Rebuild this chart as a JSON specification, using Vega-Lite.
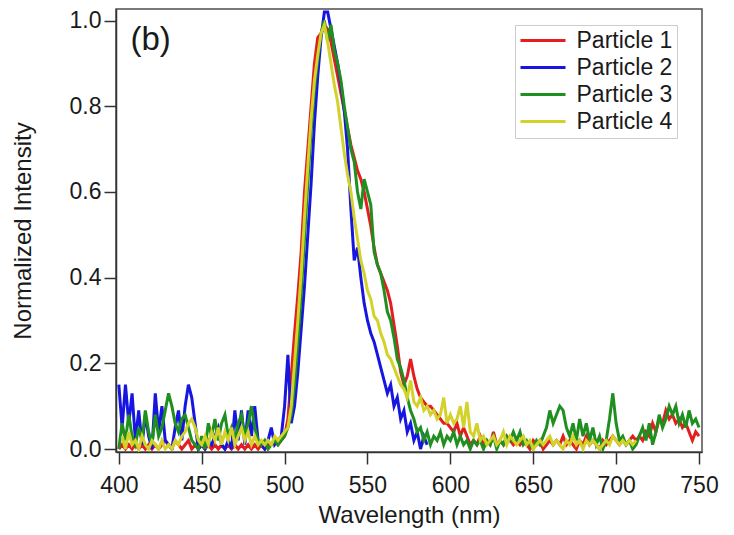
{
  "$schema": "https://vega.github.io/schema/vega-lite/v6.json",
  "width": 586,
  "height": 443,
  "autosize": {"type": "none"},
  "padding": {"left": 116, "top": 9, "right": 32, "bottom": 83},
  "background": "white",
  "config": {
    "view": {"stroke": "#4d4d4d", "strokeWidth": 1.5},
    "font": "Liberation Sans",
    "axis": {
      "grid": false,
      "domainColor": "#333333",
      "domainWidth": 1.5,
      "tickColor": "#333333",
      "tickWidth": 1.5,
      "tickSize": 12,
      "labelFont": "Liberation Sans",
      "labelFontSize": 23,
      "labelColor": "#1a1a1a",
      "titleFont": "Liberation Sans",
      "titleFontSize": 24,
      "titleFontWeight": "normal",
      "titleColor": "#1a1a1a"
    }
  },
  "layer": [
    {
      "data": {
        "values": [
          {"w":400,"Particle 1":0.0,"Particle 2":0.15,"Particle 3":0.0},
          {"w":402,"Particle 1":0.01,"Particle 2":0.05,"Particle 3":0.06,"Particle 4":0.03},
          {"w":404,"Particle 1":0.0,"Particle 2":0.15,"Particle 3":0.02,"Particle 4":0.0},
          {"w":406,"Particle 1":0.01,"Particle 2":0.06,"Particle 3":0.08,"Particle 4":0.04},
          {"w":408,"Particle 1":0.0,"Particle 2":0.13,"Particle 3":0.03,"Particle 4":0.01},
          {"w":410,"Particle 1":0.01,"Particle 2":0.02,"Particle 3":0.01,"Particle 4":0.02},
          {"w":412,"Particle 1":0.0,"Particle 2":0.09,"Particle 3":0.05,"Particle 4":0.0},
          {"w":414,"Particle 1":0.01,"Particle 2":0.01,"Particle 3":0.02,"Particle 4":0.03},
          {"w":416,"Particle 1":0.0,"Particle 2":0.08,"Particle 3":0.09,"Particle 4":0.01},
          {"w":418,"Particle 1":0.01,"Particle 2":0.03,"Particle 3":0.04,"Particle 4":0.0},
          {"w":420,"Particle 1":0.0,"Particle 2":0.0,"Particle 3":0.01,"Particle 4":0.02},
          {"w":422,"Particle 1":0.01,"Particle 2":0.13,"Particle 3":0.08,"Particle 4":0.01},
          {"w":424,"Particle 1":0.0,"Particle 2":0.04,"Particle 3":0.03,"Particle 4":0.0},
          {"w":426,"Particle 1":0.01,"Particle 2":0.1,"Particle 3":0.05,"Particle 4":0.02},
          {"w":428,"Particle 1":0.02,"Particle 2":0.02,"Particle 3":0.09,"Particle 4":0.0},
          {"w":430,"Particle 1":0.01,"Particle 2":0.01,"Particle 3":0.13,"Particle 4":0.01},
          {"w":432,"Particle 1":0.0,"Particle 2":0.0,"Particle 3":0.1,"Particle 4":0.0},
          {"w":434,"Particle 1":0.02,"Particle 2":0.05,"Particle 3":0.06,"Particle 4":0.02},
          {"w":436,"Particle 1":0.01,"Particle 2":0.09,"Particle 3":0.04,"Particle 4":0.01},
          {"w":438,"Particle 1":0.0,"Particle 2":0.02,"Particle 3":0.07,"Particle 4":0.03},
          {"w":440,"Particle 1":0.01,"Particle 2":0.1,"Particle 3":0.08,"Particle 4":0.04},
          {"w":442,"Particle 1":0.02,"Particle 2":0.15,"Particle 3":0.05,"Particle 4":0.06},
          {"w":444,"Particle 1":0.0,"Particle 2":0.12,"Particle 3":0.02,"Particle 4":0.07},
          {"w":446,"Particle 1":0.01,"Particle 2":0.06,"Particle 3":0.01,"Particle 4":0.05},
          {"w":448,"Particle 1":0.0,"Particle 2":0.0,"Particle 3":0.0,"Particle 4":0.02},
          {"w":450,"Particle 1":0.01,"Particle 2":0.01,"Particle 3":0.03,"Particle 4":0.01},
          {"w":452,"Particle 1":0.0,"Particle 2":0.0,"Particle 3":0.0,"Particle 4":0.03},
          {"w":454,"Particle 1":0.01,"Particle 2":0.02,"Particle 3":0.06,"Particle 4":0.01},
          {"w":456,"Particle 1":0.0,"Particle 2":0.01,"Particle 3":0.03,"Particle 4":0.04},
          {"w":458,"Particle 1":0.01,"Particle 2":0.03,"Particle 3":0.07,"Particle 4":0.02},
          {"w":460,"Particle 1":0.0,"Particle 2":0.05,"Particle 3":0.02,"Particle 4":0.05},
          {"w":462,"Particle 1":0.01,"Particle 2":0.01,"Particle 3":0.06,"Particle 4":0.01},
          {"w":464,"Particle 1":0.0,"Particle 2":0.0,"Particle 3":0.08,"Particle 4":0.04},
          {"w":466,"Particle 1":0.01,"Particle 2":0.02,"Particle 3":0.03,"Particle 4":0.02},
          {"w":468,"Particle 1":0.0,"Particle 2":0.0,"Particle 3":0.05,"Particle 4":0.05},
          {"w":470,"Particle 1":0.01,"Particle 2":0.09,"Particle 3":0.02,"Particle 4":0.01},
          {"w":472,"Particle 1":0.0,"Particle 2":0.02,"Particle 3":0.06,"Particle 4":0.03},
          {"w":474,"Particle 1":0.01,"Particle 2":0.09,"Particle 3":0.08,"Particle 4":0.05},
          {"w":476,"Particle 1":0.0,"Particle 2":0.01,"Particle 3":0.03,"Particle 4":0.02},
          {"w":478,"Particle 1":0.01,"Particle 2":0.09,"Particle 3":0.06,"Particle 4":0.04},
          {"w":480,"Particle 1":0.0,"Particle 2":0.03,"Particle 3":0.1,"Particle 4":0.01},
          {"w":482,"Particle 1":0.01,"Particle 2":0.1,"Particle 3":0.05,"Particle 4":0.03},
          {"w":484,"Particle 1":0.0,"Particle 2":0.02,"Particle 3":0.02,"Particle 4":0.01},
          {"w":486,"Particle 1":0.01,"Particle 2":0.01,"Particle 3":0.01,"Particle 4":0.02},
          {"w":488,"Particle 1":0.0,"Particle 2":0.0,"Particle 3":0.02,"Particle 4":0.01},
          {"w":490,"Particle 1":0.01,"Particle 2":0.02,"Particle 3":0.0,"Particle 4":0.02},
          {"w":492,"Particle 1":0.01,"Particle 2":0.05,"Particle 3":0.01,"Particle 4":0.01},
          {"w":494,"Particle 1":0.02,"Particle 2":0.01,"Particle 3":0.02,"Particle 4":0.03},
          {"w":496,"Particle 1":0.01,"Particle 2":0.02,"Particle 3":0.01,"Particle 4":0.02},
          {"w":498,"Particle 1":0.02,"Particle 2":0.03,"Particle 3":0.02,"Particle 4":0.03},
          {"w":500,"Particle 1":0.03,"Particle 2":0.1,"Particle 3":0.03,"Particle 4":0.04},
          {"w":502,"Particle 1":0.07,"Particle 2":0.22,"Particle 3":0.05,"Particle 4":0.05},
          {"w":504,"Particle 1":0.17,"Particle 2":0.06,"Particle 3":0.08,"Particle 4":0.1},
          {"w":506,"Particle 1":0.27,"Particle 2":0.1,"Particle 3":0.15,"Particle 4":0.2},
          {"w":508,"Particle 1":0.36,"Particle 2":0.18,"Particle 3":0.25,"Particle 4":0.3},
          {"w":510,"Particle 1":0.46,"Particle 2":0.28,"Particle 3":0.36,"Particle 4":0.41},
          {"w":512,"Particle 1":0.6,"Particle 2":0.38,"Particle 3":0.49,"Particle 4":0.54},
          {"w":514,"Particle 1":0.7,"Particle 2":0.5,"Particle 3":0.62,"Particle 4":0.66},
          {"w":516,"Particle 1":0.8,"Particle 2":0.62,"Particle 3":0.74,"Particle 4":0.77},
          {"w":518,"Particle 1":0.9,"Particle 2":0.76,"Particle 3":0.84,"Particle 4":0.86},
          {"w":520,"Particle 1":0.96,"Particle 2":0.87,"Particle 3":0.91,"Particle 4":0.92},
          {"w":522,"Particle 1":0.97,"Particle 2":0.96,"Particle 3":0.97,"Particle 4":0.97},
          {"w":524,"Particle 1":0.99,"Particle 2":1.02,"Particle 3":1.0,"Particle 4":0.99},
          {"w":526,"Particle 1":0.98,"Particle 2":1.02,"Particle 3":0.95,"Particle 4":0.95},
          {"w":528,"Particle 1":0.95,"Particle 2":0.98,"Particle 3":0.99,"Particle 4":0.9},
          {"w":530,"Particle 1":0.91,"Particle 2":0.94,"Particle 3":0.93,"Particle 4":0.85},
          {"w":532,"Particle 1":0.87,"Particle 2":0.9,"Particle 3":0.9,"Particle 4":0.81},
          {"w":534,"Particle 1":0.83,"Particle 2":0.85,"Particle 3":0.86,"Particle 4":0.75},
          {"w":536,"Particle 1":0.79,"Particle 2":0.79,"Particle 3":0.8,"Particle 4":0.69},
          {"w":538,"Particle 1":0.75,"Particle 2":0.7,"Particle 3":0.75,"Particle 4":0.64},
          {"w":540,"Particle 1":0.71,"Particle 2":0.56,"Particle 3":0.7,"Particle 4":0.6},
          {"w":542,"Particle 1":0.68,"Particle 2":0.44,"Particle 3":0.67,"Particle 4":0.54},
          {"w":544,"Particle 1":0.65,"Particle 2":0.47,"Particle 3":0.6,"Particle 4":0.49},
          {"w":546,"Particle 1":0.63,"Particle 2":0.4,"Particle 3":0.56,"Particle 4":0.44},
          {"w":548,"Particle 1":0.6,"Particle 2":0.34,"Particle 3":0.63,"Particle 4":0.41},
          {"w":550,"Particle 1":0.56,"Particle 2":0.3,"Particle 3":0.6,"Particle 4":0.37},
          {"w":552,"Particle 1":0.52,"Particle 2":0.27,"Particle 3":0.57,"Particle 4":0.35},
          {"w":554,"Particle 1":0.47,"Particle 2":0.25,"Particle 3":0.46,"Particle 4":0.31},
          {"w":556,"Particle 1":0.43,"Particle 2":0.22,"Particle 3":0.43,"Particle 4":0.3},
          {"w":558,"Particle 1":0.41,"Particle 2":0.19,"Particle 3":0.41,"Particle 4":0.27},
          {"w":560,"Particle 1":0.39,"Particle 2":0.16,"Particle 3":0.37,"Particle 4":0.25},
          {"w":562,"Particle 1":0.37,"Particle 2":0.13,"Particle 3":0.32,"Particle 4":0.22},
          {"w":564,"Particle 1":0.34,"Particle 2":0.15,"Particle 3":0.3,"Particle 4":0.21},
          {"w":566,"Particle 1":0.29,"Particle 2":0.1,"Particle 3":0.26,"Particle 4":0.19},
          {"w":568,"Particle 1":0.24,"Particle 2":0.12,"Particle 3":0.21,"Particle 4":0.17},
          {"w":570,"Particle 1":0.18,"Particle 2":0.07,"Particle 3":0.19,"Particle 4":0.15},
          {"w":572,"Particle 1":0.15,"Particle 2":0.09,"Particle 3":0.16,"Particle 4":0.14},
          {"w":574,"Particle 1":0.17,"Particle 2":0.04,"Particle 3":0.12,"Particle 4":0.12},
          {"w":576,"Particle 1":0.21,"Particle 2":0.06,"Particle 3":0.09,"Particle 4":0.16},
          {"w":578,"Particle 1":0.17,"Particle 2":0.02,"Particle 3":0.07,"Particle 4":0.11},
          {"w":580,"Particle 1":0.14,"Particle 2":0.04,"Particle 3":0.04,"Particle 4":0.1},
          {"w":582,"Particle 1":0.12,"Particle 2":0.0,"Particle 3":0.05,"Particle 4":0.12},
          {"w":584,"Particle 1":0.11,"Particle 2":0.03,"Particle 3":0.02,"Particle 4":0.09},
          {"w":586,"Particle 1":0.1,"Particle 2":0.01,"Particle 3":0.04,"Particle 4":0.1},
          {"w":588,"Particle 1":0.1,"Particle 3":0.01,"Particle 4":0.08},
          {"w":590,"Particle 1":0.09,"Particle 3":0.03,"Particle 4":0.09},
          {"w":592,"Particle 1":0.08,"Particle 3":0.02,"Particle 4":0.07},
          {"w":594,"Particle 1":0.07,"Particle 3":0.04,"Particle 4":0.08},
          {"w":596,"Particle 1":0.06,"Particle 3":0.01,"Particle 4":0.12},
          {"w":598,"Particle 1":0.06,"Particle 3":0.03,"Particle 4":0.06},
          {"w":600,"Particle 1":0.05,"Particle 3":0.02,"Particle 4":0.08},
          {"w":602,"Particle 1":0.04,"Particle 3":0.04,"Particle 4":0.06},
          {"w":604,"Particle 1":0.06,"Particle 3":0.01,"Particle 4":0.07},
          {"w":606,"Particle 1":0.03,"Particle 3":0.03,"Particle 4":0.1},
          {"w":608,"Particle 1":0.05,"Particle 3":0.01,"Particle 4":0.05},
          {"w":610,"Particle 1":0.03,"Particle 3":0.02,"Particle 4":0.11},
          {"w":612,"Particle 1":0.01,"Particle 3":0.0,"Particle 4":0.04},
          {"w":614,"Particle 1":0.02,"Particle 3":0.02,"Particle 4":0.03},
          {"w":616,"Particle 1":0.01,"Particle 3":0.01,"Particle 4":0.06},
          {"w":618,"Particle 1":0.03,"Particle 3":0.02,"Particle 4":0.02},
          {"w":620,"Particle 1":0.01,"Particle 3":0.0,"Particle 4":0.03},
          {"w":622,"Particle 1":0.02,"Particle 3":0.02,"Particle 4":0.01},
          {"w":624,"Particle 1":0.01,"Particle 3":0.01,"Particle 4":0.02},
          {"w":626,"Particle 1":0.04,"Particle 3":0.03,"Particle 4":0.03},
          {"w":628,"Particle 1":0.01,"Particle 3":0.0,"Particle 4":0.01},
          {"w":630,"Particle 1":0.02,"Particle 3":0.02,"Particle 4":0.02},
          {"w":632,"Particle 1":0.01,"Particle 3":0.01,"Particle 4":0.04},
          {"w":634,"Particle 1":0.03,"Particle 3":0.03,"Particle 4":0.01},
          {"w":636,"Particle 1":0.02,"Particle 3":0.02,"Particle 4":0.03},
          {"w":638,"Particle 1":0.01,"Particle 3":0.04,"Particle 4":0.02},
          {"w":640,"Particle 1":0.02,"Particle 3":0.02,"Particle 4":0.01},
          {"w":642,"Particle 1":0.01,"Particle 3":0.04,"Particle 4":0.02},
          {"w":644,"Particle 1":0.02,"Particle 3":0.01,"Particle 4":0.03},
          {"w":646,"Particle 1":0.01,"Particle 3":0.02,"Particle 4":0.01},
          {"w":648,"Particle 1":0.0,"Particle 3":0.01,"Particle 4":0.02},
          {"w":650,"Particle 1":0.02,"Particle 3":0.0,"Particle 4":0.0},
          {"w":652,"Particle 1":0.01,"Particle 3":0.02,"Particle 4":0.01},
          {"w":654,"Particle 1":0.02,"Particle 3":0.01,"Particle 4":0.02},
          {"w":656,"Particle 1":0.0,"Particle 3":0.03,"Particle 4":0.01},
          {"w":658,"Particle 1":0.01,"Particle 3":0.05,"Particle 4":0.02},
          {"w":660,"Particle 1":0.02,"Particle 3":0.09,"Particle 4":0.03},
          {"w":662,"Particle 1":0.01,"Particle 3":0.06,"Particle 4":0.01},
          {"w":664,"Particle 1":0.02,"Particle 3":0.08,"Particle 4":0.02},
          {"w":666,"Particle 1":0.01,"Particle 3":0.1,"Particle 4":0.01},
          {"w":668,"Particle 1":0.03,"Particle 3":0.09,"Particle 4":0.0},
          {"w":670,"Particle 1":0.01,"Particle 3":0.05,"Particle 4":0.02},
          {"w":672,"Particle 1":0.02,"Particle 3":0.03,"Particle 4":0.01},
          {"w":674,"Particle 1":0.01,"Particle 3":0.06,"Particle 4":0.03},
          {"w":676,"Particle 1":0.0,"Particle 3":0.02,"Particle 4":0.01},
          {"w":678,"Particle 1":0.02,"Particle 3":0.07,"Particle 4":0.02},
          {"w":680,"Particle 1":0.01,"Particle 3":0.03,"Particle 4":0.0},
          {"w":682,"Particle 1":0.03,"Particle 3":0.06,"Particle 4":0.02},
          {"w":684,"Particle 1":0.01,"Particle 3":0.02,"Particle 4":0.01},
          {"w":686,"Particle 1":0.02,"Particle 3":0.05,"Particle 4":0.02},
          {"w":688,"Particle 1":0.01,"Particle 3":0.01,"Particle 4":0.01},
          {"w":690,"Particle 1":0.0,"Particle 3":0.03,"Particle 4":0.0},
          {"w":692,"Particle 1":0.02,"Particle 3":0.0,"Particle 4":0.01},
          {"w":694,"Particle 1":0.01,"Particle 3":0.02,"Particle 4":0.02},
          {"w":696,"Particle 1":0.02,"Particle 3":0.07,"Particle 4":0.01},
          {"w":698,"Particle 1":0.03,"Particle 3":0.13,"Particle 4":0.03},
          {"w":700,"Particle 1":0.02,"Particle 3":0.06,"Particle 4":0.02},
          {"w":702,"Particle 1":0.01,"Particle 3":0.02,"Particle 4":0.01},
          {"w":704,"Particle 1":0.02,"Particle 3":0.03,"Particle 4":0.02},
          {"w":706,"Particle 1":0.01,"Particle 3":0.01,"Particle 4":0.01},
          {"w":708,"Particle 1":0.02,"Particle 3":0.02,"Particle 4":0.02},
          {"w":710,"Particle 1":0.03,"Particle 3":0.0,"Particle 4":0.01},
          {"w":712,"Particle 1":0.02,"Particle 3":0.01,"Particle 4":0.02},
          {"w":714,"Particle 1":0.03,"Particle 3":0.03},
          {"w":716,"Particle 1":0.02,"Particle 3":0.05},
          {"w":718,"Particle 1":0.04,"Particle 3":0.02},
          {"w":720,"Particle 1":0.03,"Particle 3":0.06},
          {"w":722,"Particle 1":0.06,"Particle 3":0.01},
          {"w":724,"Particle 1":0.04,"Particle 3":0.04},
          {"w":726,"Particle 1":0.07,"Particle 3":0.08},
          {"w":728,"Particle 1":0.06,"Particle 3":0.05},
          {"w":730,"Particle 1":0.09,"Particle 3":0.07},
          {"w":732,"Particle 1":0.07,"Particle 3":0.1},
          {"w":734,"Particle 1":0.08,"Particle 3":0.08},
          {"w":736,"Particle 1":0.06,"Particle 3":0.1},
          {"w":738,"Particle 1":0.07,"Particle 3":0.06},
          {"w":740,"Particle 1":0.05,"Particle 3":0.08},
          {"w":742,"Particle 1":0.06,"Particle 3":0.05},
          {"w":744,"Particle 1":0.04,"Particle 3":0.09},
          {"w":746,"Particle 1":0.02,"Particle 3":0.06},
          {"w":748,"Particle 1":0.04,"Particle 3":0.07},
          {"w":750,"Particle 1":0.03,"Particle 3":0.05}
        ]
      },
      "transform": [
        {"fold": ["Particle 1", "Particle 2", "Particle 3", "Particle 4"], "as": ["particle", "intensity"]},
        {"filter": "isValid(datum.intensity)"}
      ],
      "mark": {"type": "line", "strokeWidth": 3, "clip": true},
      "encoding": {
        "x": {
          "field": "w",
          "type": "quantitative",
          "scale": {"domain": [398.3, 751.8], "nice": false, "zero": false},
          "axis": {
            "values": [400, 450, 500, 550, 600, 650, 700, 750],
            "title": "Wavelength (nm)",
            "labelPadding": 10,
            "titlePadding": 6,
            "labelFlush": false,
            "labelOverlap": false
          }
        },
        "y": {
          "field": "intensity",
          "type": "quantitative",
          "scale": {"domain": [-0.007, 1.027], "nice": false, "zero": false},
          "axis": {
            "values": [0, 0.2, 0.4, 0.6, 0.8, 1.0],
            "format": ".1f",
            "title": "Normalized Intensity",
            "labelPadding": 3,
            "titlePadding": 34,
            "labelFlush": false,
            "labelOverlap": false
          }
        },
        "color": {
          "field": "particle",
          "type": "nominal",
          "scale": {
            "domain": ["Particle 1", "Particle 2", "Particle 3", "Particle 4"],
            "range": ["#e41e1e", "#1616e0", "#1f8f1f", "#d2d22a"]
          },
          "legend": {
            "title": null,
            "orient": "none",
            "legendX": 399,
            "legendY": 16,
            "symbolType": "M-2.25,0H2.25",
            "symbolSize": 400,
            "symbolOffset": 12.5,
            "symbolStrokeWidth": 3,
            "labelFont": "Liberation Sans",
            "labelFontSize": 23,
            "labelColor": "#1a1a1a",
            "labelOffset": 22,
            "padding": 4,
            "rowPadding": 3,
            "strokeColor": "#cccccc",
            "fillColor": "white"
          }
        }
      }
    },
    {
      "data": {"values": [{"label": "(b)"}]},
      "mark": {"type": "text", "align": "left", "baseline": "alphabetic", "fontSize": 33, "font": "Liberation Sans", "color": "#1a1a1a"},
      "encoding": {
        "x": {"datum": 407},
        "y": {"datum": 0.932},
        "text": {"field": "label"}
      }
    }
  ]
}
